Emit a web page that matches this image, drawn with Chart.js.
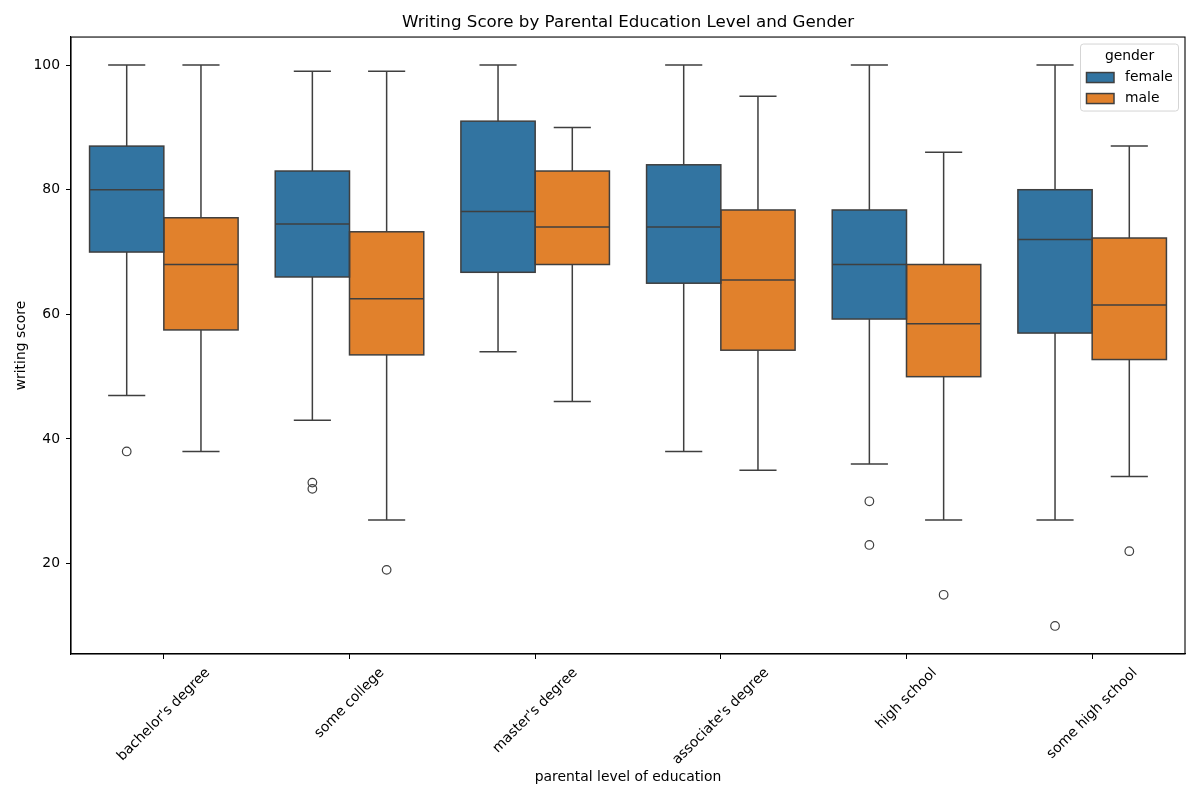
<!DOCTYPE html>
<html>
<head>
<meta charset="utf-8">
<script src="https://cdn.jsdelivr.net/npm/chart.js@4.4.1/dist/chart.umd.min.js"></script>
<style>
  html, body { margin: 0; padding: 0; background: #fff; }
  #wrap { width: 1200px; height: 800px; }
</style>
</head>
<body>
<div id="wrap"><canvas id="boxChart" width="1200" height="800"></canvas></div>
<script>
// categories and tick values
var categories = ["bachelor's degree", 'some college', "master's degree", "associate's degree", 'high school', 'some high school'];
var yTicks = [20, 40, 60, 80, 100];
var groups = ['female', 'male'];

// female box stats (writing score)
var femaleLow = [47, 43, 54, 38, 36, 27];
var femaleQ1 = [70, 66, 66.75, 65, 59.25, 57];
var femaleMedian = [80, 74.5, 76.5, 74, 68, 72];
var femaleQ3 = [87, 83, 91, 84, 76.75, 80];
var femaleHigh = [100, 99, 100, 100, 100, 100];
var femaleOutliers = [[38], [33, 32], [], [], [30, 23], [10]];

// male box stats
var maleLow = [38, 27, 46, 35, 27, 34];
var maleQ1 = [57.5, 53.5, 68, 54.25, 50, 52.75];
var maleMedian = [68, 62.5, 74, 65.5, 58.5, 61.5];
var maleQ3 = [75.5, 73.25, 83, 76.75, 68, 72.25];
var maleHigh = [100, 99, 90, 95, 86, 87];
var maleOutliers = [[], [19], [], [], [15], [22]];

var fillColors = ['#3274a1', '#e1812c'];
var lineColor = '#3f3f3f';
var fontFamily = "'DejaVu Sans', 'Liberation Sans', sans-serif";

var stats = [
    {low: femaleLow, q1: femaleQ1, med: femaleMedian, q3: femaleQ3, high: femaleHigh, out: femaleOutliers},
    {low: maleLow, q1: maleQ1, med: maleMedian, q3: maleQ3, high: maleHigh, out: maleOutliers}
];

function pairs(lo, hi) {
    return lo.map(function (v, i) { return [v, hi[i]]; });
}

// box outlines, whiskers, medians, outliers, frame, x labels and legend
var boxExtras = {
    id: 'boxExtras',
    afterDatasetsDraw: function (chart) {
        var ctx = chart.ctx;
        var y = chart.scales.y;
        ctx.save();
        ctx.strokeStyle = lineColor;
        ctx.lineWidth = 1.5;
        stats.forEach(function (s, d) {
            var meta = chart.getDatasetMeta(d);
            meta.data.forEach(function (bar, j) {
                var x = bar.x, w = bar.width;
                var top = y.getPixelForValue(s.q3[j]);
                var bot = y.getPixelForValue(s.q1[j]);
                ctx.strokeRect(x - w / 2, top, w, bot - top);
                ctx.beginPath();
                // whiskers
                ctx.moveTo(x, top);
                ctx.lineTo(x, y.getPixelForValue(s.high[j]));
                ctx.moveTo(x, bot);
                ctx.lineTo(x, y.getPixelForValue(s.low[j]));
                // caps
                ctx.moveTo(x - w / 4, y.getPixelForValue(s.high[j]));
                ctx.lineTo(x + w / 4, y.getPixelForValue(s.high[j]));
                ctx.moveTo(x - w / 4, y.getPixelForValue(s.low[j]));
                ctx.lineTo(x + w / 4, y.getPixelForValue(s.low[j]));
                // median
                ctx.moveTo(x - w / 2, y.getPixelForValue(s.med[j]));
                ctx.lineTo(x + w / 2, y.getPixelForValue(s.med[j]));
                ctx.stroke();
                // outliers
                ctx.lineWidth = 1.2;
                s.out[j].forEach(function (v) {
                    ctx.beginPath();
                    ctx.arc(x, y.getPixelForValue(v), 4.3, 0, Math.PI * 2);
                    ctx.stroke();
                });
                ctx.lineWidth = 1.5;
            });
        });
        ctx.restore();
    },
    afterDraw: function (chart) {
        var ctx = chart.ctx;
        var a = chart.chartArea;
        ctx.save();
        // frame
        ctx.strokeStyle = '#000';
        ctx.lineWidth = 1.1;
        ctx.strokeRect(a.left, a.top, a.right - a.left, a.bottom - a.top);

        // rotated category labels, centred under the tick
        var xs = chart.scales.x;
        ctx.fillStyle = '#000';
        ctx.font = '13.9px ' + fontFamily;
        ctx.textAlign = 'center';
        ctx.textBaseline = 'middle';
        categories.forEach(function (label, i) {
            var px = xs.getPixelForTick(i);
            var w = ctx.measureText(label).width;
            var d = (w + 16) * Math.SQRT1_2;
            ctx.save();
            ctx.translate(px, a.bottom + 11 + d / 2);
            ctx.rotate(-Math.PI / 4);
            ctx.fillText(label, 0, 0);
            ctx.restore();
        });

        // legend
        var lx = a.right - 104.5, ly = a.top + 7;
        var lw = 98, lh = 67;
        ctx.beginPath();
        ctx.roundRect(lx, ly, lw, lh, 3);
        ctx.fillStyle = 'rgba(255,255,255,0.8)';
        ctx.fill();
        ctx.strokeStyle = '#d5d5d5';
        ctx.lineWidth = 1;
        ctx.stroke();
        ctx.fillStyle = '#000';
        ctx.textAlign = 'center';
        ctx.fillText('gender', lx + lw / 2, ly + 12);
        ctx.textAlign = 'left';
        groups.forEach(function (g, i) {
            var ry = ly + 28.5 + i * 21;
            ctx.fillStyle = fillColors[i];
            ctx.fillRect(lx + 6, ry, 27.5, 10);
            ctx.strokeStyle = lineColor;
            ctx.lineWidth = 1.5;
            ctx.strokeRect(lx + 6, ry, 27.5, 10);
            ctx.fillStyle = '#000';
            ctx.fillText(g, lx + 44.5, ry + 5);
        });
        ctx.restore();
    }
};

var ctx = document.getElementById('boxChart').getContext('2d');
var chart = new Chart(ctx, {
    type: 'bar',
    data: {
        labels: categories,
        datasets: [{
            label: groups[0],
            data: pairs(femaleQ1, femaleQ3),
            backgroundColor: fillColors[0],
            borderWidth: 0,
            categoryPercentage: 0.8,
            barPercentage: 1.0
        }, {
            label: groups[1],
            data: pairs(maleQ1, maleQ3),
            backgroundColor: fillColors[1],
            borderWidth: 0,
            categoryPercentage: 0.8,
            barPercentage: 1.0
        }]
    },
    options: {
        responsive: false,
        animation: false,
        devicePixelRatio: 1,
        layout: {padding: {left: 0, right: 15, top: 0, bottom: 0}},
        plugins: {
            legend: {display: false},
            tooltip: {enabled: false},
            title: {
                display: true,
                text: 'Writing Score by Parental Education Level and Gender',
                fullSize: false,
                color: '#000',
                font: {family: fontFamily, size: 16.7, weight: 'normal', lineHeight: 1.2},
                padding: {top: 13, bottom: 4}
            }
        },
        scales: {
            x: {
                offset: true,
                grid: {offset: false, drawOnChartArea: false, drawTicks: true, tickLength: 5, color: '#000', lineWidth: 1},
                border: {display: true, color: '#000', width: 1.1},
                ticks: {display: false},
                title: {
                    display: true,
                    text: 'parental level of education',
                    color: '#000',
                    font: {family: fontFamily, size: 13.9, lineHeight: 1.2},
                    padding: {top: 0, bottom: 14.6}
                },
                afterFit: function (scale) { scale.height = 146; }
            },
            y: {
                min: 5.5,
                max: 104.5,
                afterBuildTicks: function (scale) {
                    scale.ticks = yTicks.map(function (v) { return {value: v}; });
                },
                grid: {drawOnChartArea: false, drawTicks: true, tickLength: 5, color: '#000', lineWidth: 1},
                border: {display: true, color: '#000', width: 1.1},
                ticks: {
                    color: '#000',
                    padding: 6,
                    font: {family: fontFamily, size: 13.9}
                },
                title: {
                    display: true,
                    text: 'writing score',
                    color: '#000',
                    font: {family: fontFamily, size: 13.9, lineHeight: 1.2},
                    padding: {top: 12.6, bottom: 0}
                },
                afterFit: function (scale) { scale.width = 71; }
            }
        }
    },
    plugins: [boxExtras]
});
</script>
</body>
</html>
